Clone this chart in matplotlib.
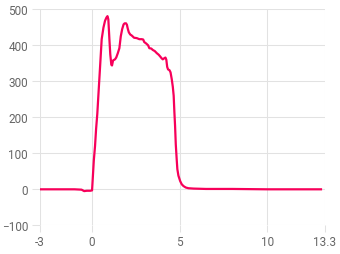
import matplotlib

matplotlib.use("Agg")
import matplotlib.pyplot as plt  # noqa: E402

# signal trace
T = [-3.0, -2.0, -1.0, -0.6, -0.45, -0.3, -0.1, 0.0, 0.04, 0.1, 0.17, 0.23, 0.3, 0.36,
     0.46, 0.55, 0.65, 0.74, 0.82, 0.88, 0.93, 0.99, 1.04, 1.1, 1.14, 1.2, 1.31, 1.38,
     1.47, 1.56, 1.64, 1.72, 1.8, 1.86, 1.94, 1.99, 2.04, 2.1, 2.18, 2.27, 2.4, 2.55,
     2.7, 2.84, 2.92, 2.98, 3.09, 3.2, 3.27, 3.38, 3.47, 3.58, 3.7, 3.8, 3.89, 3.97,
     4.04, 4.12, 4.19, 4.24, 4.29, 4.34, 4.42, 4.48, 4.55, 4.61, 4.66, 4.7, 4.74,
     4.78, 4.83, 4.87, 4.93, 5.03, 5.12, 5.22, 5.35, 5.5, 5.8, 6.5, 8.0, 10.0, 12.0,
     13.07]
V = [0, 0, 0, -1, -5, -4, -4, -3, 30, 80, 120, 167, 210, 260, 342, 417, 449, 468,
     477, 481, 472, 417, 375, 346, 344, 358, 361, 366, 378, 392, 425, 445, 458, 461,
     461, 457, 446, 436, 430, 427, 421, 420, 417, 417, 416, 409, 405, 400, 392, 391,
     387, 384, 378, 374, 369, 364, 361, 364, 366, 360, 340, 333, 331, 325, 306, 285,
     260, 215, 176, 125, 85, 56, 38, 23, 14, 9, 5, 3, 2, 1, 1, 0, 0, 0]

XTICKS = [-3, 0, 5, 10, 13.3]
XLABELS = ["-3", "0", "5", "10", "13.3"]
YTICKS = [-100, 0, 100, 200, 300, 400, 500]

LINE = "#f7005a"
GRID = "#e2e2e2"
TXT = "#666666"

plt.rcParams["font.family"] = ["Roboto", "DejaVu Sans"]

fig = plt.figure(figsize=(3.4, 2.55), dpi=100)
ax = fig.add_axes([0.1162, 0.1125, 0.9559 - 0.1162, 0.9596 - 0.1125])
ax.plot(T, V, color=LINE, lw=1.6, solid_joinstyle="round", zorder=3)

ax.set_xlim(-3, 13.3)
ax.set_ylim(-100, 500)
ax.set_xticks(XTICKS)
ax.set_xticklabels(XLABELS)
ax.set_yticks(YTICKS)
ax.grid(True, color=GRID, lw=0.75)
for s in ax.spines.values():
    s.set_visible(False)
ax.tick_params(axis="x", length=5, width=0.75, color=GRID, labelsize=8.5, labelcolor=TXT, pad=2)
ax.tick_params(axis="y", length=5.8, width=0.75, color=GRID, labelsize=8.5, labelcolor=TXT, pad=2.5)

fig.savefig("out.png", dpi=100)
